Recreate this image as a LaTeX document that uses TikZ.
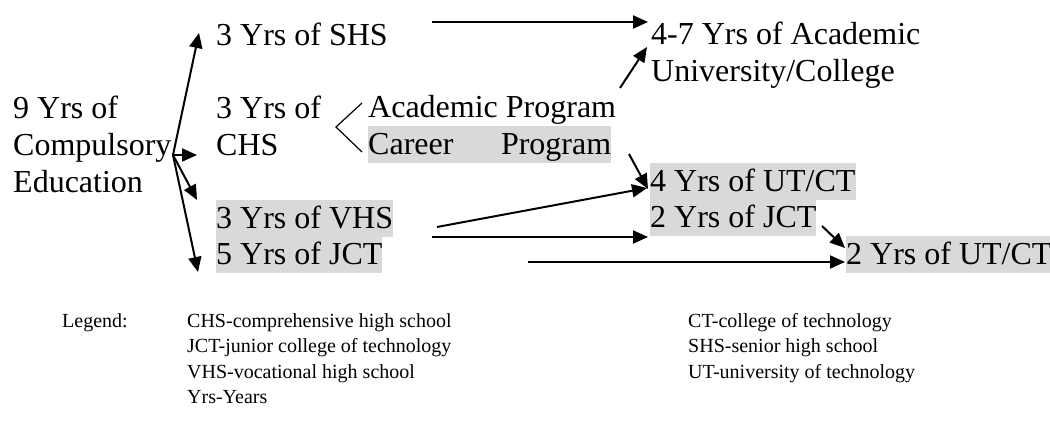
\documentclass[tikz,border=0pt]{standalone}
\usepackage{fontspec}
\setmainfont{Liberation Serif}
\usetikzlibrary{arrows.meta}
\definecolor{hl}{RGB}{217,217,217}
\tikzset{
  x=1pt,y=-1pt,
  main/.style={anchor=base west, inner sep=0pt, font=\fontsize{32}{37}\selectfont},
  hlbox/.style={main, fill=hl, text height=29pt, text depth=8pt},
  leg/.style={anchor=base west, inner sep=0pt, font=\fontsize{20}{25}\selectfont},
  arr/.style={line width=2pt, -{Triangle[length=15pt,width=13pt]}},
  brk/.style={line width=1.2pt},
}
\begin{document}
\begin{tikzpicture}
\useasboundingbox (0,0) rectangle (1050,422);
% left
\node[main] (e1) at (13,119) {9 Yrs of};
\node[main] (e2) at (13,156) {Compulsory};
\node[main] (e3) at (13,193) {Education};
% middle
\node[main] (shs) at (216,46) {3 Yrs of SHS};
\node[main] (chsa) at (216,119) {3 Yrs of};
\node[main] (chsb) at (216,156) {CHS};
\node[main] (acad) at (368,118) {Academic Program};
\node[hlbox] (career) at (368,155) {\hbox to 243pt{Career\hfill Program}};
\node[hlbox] (vhs) at (216,229) {3 Yrs of VHS};
\node[hlbox] (jcta) at (216,265) {5 Yrs of JCT};
% right
\node[main] (univa) at (651,45) {4-7 Yrs of Academic};
\node[main] (univb) at (651,82) {University/College};
\node[hlbox] (uta) at (650,192) {4 Yrs of UT/CT};
\node[hlbox] (jctb) at (650,228) {2 Yrs of JCT};
\node[hlbox] (utb) at (846,265) {2 Yrs of UT/CT};
% coordinates
\coordinate (hub) at (173,155);
\coordinate (t1) at (199,33);
\coordinate (t2) at (197,155);
\coordinate (t3) at (197,200);
\coordinate (t4) at (198,272);
\coordinate (s5) at (432,22);  \coordinate (t5) at (648,22);
\coordinate (s6) at (620,88);  \coordinate (t6) at (647,47);
\coordinate (s7) at (629,154); \coordinate (t7) at (648,189);
\coordinate (s8) at (437,227); \coordinate (t8) at (647,188);
\coordinate (s9) at (432,237); \coordinate (t9) at (648,237);
\coordinate (s10) at (528,262); \coordinate (t10) at (845,262);
\coordinate (s11) at (822,226); \coordinate (t11) at (845,248);
\coordinate (ba) at (362,103); \coordinate (bv) at (336,127); \coordinate (bb) at (362,152);
% connectors
\draw[arr] (hub) -- (t1);
\draw[arr] (hub) -- (t2);
\draw[arr] (hub) -- (t3);
\draw[arr] (hub) -- (t4);
\draw[arr] (s5) -- (t5);
\draw[arr] (s6) -- (t6);
\draw[arr] (s7) -- (t7);
\draw[arr] (s8) -- (t8);
\draw[arr] (s9) -- (t9);
\draw[arr] (s10) -- (t10);
\draw[arr] (s11) -- (t11);
\draw[brk] (ba) -- (bv) -- (bb);
% legend
\node[leg] (lg) at (62,327) {Legend:};
\node[leg] (l1) at (187,327) {CHS-comprehensive high school};
\node[leg] (l2) at (187,352) {JCT-junior college of technology};
\node[leg] (l3) at (187,378) {VHS-vocational high school};
\node[leg] (l4) at (187,403) {Yrs-Years};
\node[leg] (r1) at (688,327) {CT-college of technology};
\node[leg] (r2) at (688,352) {SHS-senior high school};
\node[leg] (r3) at (688,378) {UT-university of technology};
\end{tikzpicture}
\end{document}
